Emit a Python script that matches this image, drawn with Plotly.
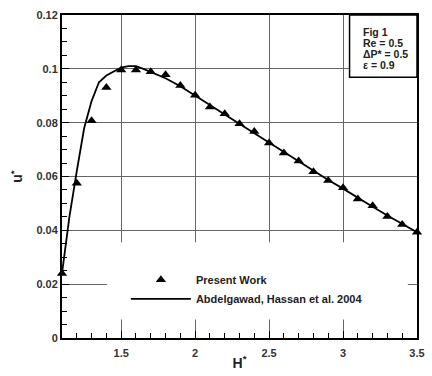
import plotly.graph_objects as go

# Present Work (triangles)
h_present = [1.1, 1.2, 1.3, 1.4, 1.5, 1.6, 1.7, 1.8, 1.9, 2.0, 2.1, 2.2, 2.3, 2.4,
             2.5, 2.6, 2.7, 2.8, 2.9, 3.0, 3.1, 3.2, 3.3, 3.4, 3.5]
u_present = [0.0240, 0.0575, 0.0807, 0.0931, 0.0996, 0.0996, 0.0989, 0.0978, 0.0938,
             0.0902, 0.0858, 0.0833, 0.0796, 0.0767, 0.0724, 0.0687, 0.0658, 0.0618,
             0.0585, 0.0558, 0.0516, 0.0491, 0.0451, 0.0422, 0.0393]

# Abdelgawad, Hassan et al. 2004 (solid line)
h_ref = [1.1, 1.15, 1.2, 1.25, 1.3, 1.35, 1.4, 1.45, 1.5, 1.55, 1.6, 1.65, 1.7, 1.8,
         1.9, 2.0, 2.1, 2.2, 2.3, 2.4, 2.5, 2.6, 2.7, 2.8, 2.9, 3.0, 3.1, 3.2, 3.3,
         3.4, 3.5]
u_ref = [0.0240, 0.0450, 0.0620, 0.0780, 0.0880, 0.0950, 0.0975, 0.0990, 0.1005,
         0.1010, 0.1010, 0.1000, 0.0988, 0.0965, 0.0935, 0.0902, 0.0866, 0.0830,
         0.0795, 0.0760, 0.0725, 0.0690, 0.0655, 0.0620, 0.0587, 0.0555, 0.0520,
         0.0488, 0.0455, 0.0425, 0.0393]

x_ticks = [1.5, 2, 2.5, 3, 3.5]
x_labels = ["1.5", "2", "2.5", "3", "3.5"]
y_ticks = [0, 0.02, 0.04, 0.06, 0.08, 0.1, 0.12]
y_labels = ["0", "0.02", "0.04", "0.06", "0.08", "0.1", "0.12"]

info_lines = ["Fig 1", "Re = 0.5", "\u0394P* = 0.5", "\u03b5 = 0.9"]

FONT = "Liberation Sans"
GRID = "#666666"

fig = go.Figure()
fig.add_trace(go.Scatter(
    x=h_present, y=u_present, mode="markers", name="Present Work",
    marker=dict(symbol="triangle-up", size=9, color="black"),
    cliponaxis=False,
))
fig.add_trace(go.Scatter(
    x=h_ref, y=u_ref, mode="lines", name="Abdelgawad, Hassan et al. 2004",
    line=dict(color="black", width=1.8),
))

# white panel behind the legend, interrupting the grid
fig.add_shape(type="rect", xref="x", yref="y", x0=1.405, x1=3.438, y0=0.0069, y1=0.0356,
              fillcolor="white", line=dict(width=0), layer="between")

# parameter box, top right
fig.add_shape(type="rect", xref="paper", yref="paper", x0=0.81, x1=1.0, y0=0.807, y1=1.0,
              fillcolor="white", line=dict(color="black", width=1.5), layer="above")
for i, txt in enumerate(info_lines):
    fig.add_annotation(xref="paper", yref="paper", x=0.842, y=1.0, xanchor="left",
                       yanchor="top", yshift=-9 - 11 * i, text=txt, showarrow=False,
                       font=dict(family=FONT, size=10.5, color="#222", weight="bold"))

axis_common = dict(
    showline=True, linecolor="black", linewidth=2, mirror=True,
    showgrid=True, gridcolor=GRID, gridwidth=1, zeroline=False,
    ticks="inside", tickcolor="black", ticklen=7, tickwidth=1,
    tickfont=dict(family=FONT, size=11, color="#333", weight="bold"),
)

fig.update_xaxes(
    range=[1.1, 3.5], tickvals=x_ticks, ticktext=x_labels, ticklabelstandoff=4,
    minor=dict(dtick=0.1, tick0=1.1, ticks="inside", ticklen=5, tickcolor="black", showgrid=False),
    title=dict(text="H<sup>*</sup>", font=dict(family=FONT, size=14, color="#222", weight="bold"),
               standoff=0),
    **axis_common,
)
fig.update_yaxes(
    range=[0, 0.12], tickvals=y_ticks, ticktext=y_labels,
    minor=dict(dtick=0.005, tick0=0, ticks="inside", ticklen=5, tickcolor="black", showgrid=False),
    title=dict(text="u<sup>*</sup>", font=dict(family=FONT, size=14, color="#222", weight="bold"),
               standoff=10),
    **axis_common,
)

fig.update_layout(
    width=432, height=376,
    margin=dict(l=62, r=7, t=15, b=30),
    paper_bgcolor="white", plot_bgcolor="white",
    showlegend=True,
    legend=dict(x=0.18, y=0.225, xanchor="left", yanchor="top", bgcolor="rgba(0,0,0,0)",
                font=dict(family=FONT, size=11, color="#222", weight="bold"),
                itemwidth=60, tracegroupgap=0),
)

fig.write_html("out.html")
